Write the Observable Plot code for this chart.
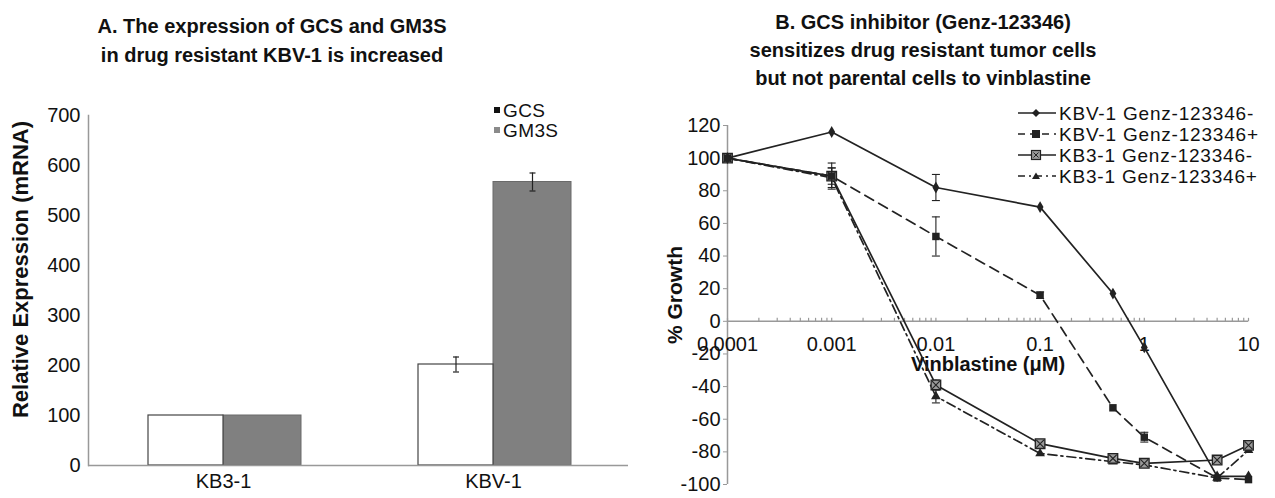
<!DOCTYPE html>
<html>
<head>
<meta charset="utf-8">
<script src="https://cdn.jsdelivr.net/npm/d3@7"></script>
<script src="https://cdn.jsdelivr.net/npm/@observablehq/plot@0.6"></script>
<style>
  html, body { margin: 0; padding: 0; background: #fff; }
  #fig { position: relative; width: 1275px; height: 498px; overflow: hidden; background: #fff;
         font-family: "Liberation Sans", Arial, sans-serif; color: #111; }
  .title { position: absolute; text-align: center; font-weight: bold; font-size: 20px; line-height: 29px; }
  #titleA { left: 0; top: 12px; width: 544px; }
  #titleB { left: 640px; top: 8px; width: 566px; line-height: 28px; }
  #chartA { position: absolute; left: 0; top: 100px; }
  #chartB { position: absolute; left: 640px; top: 95px; }
  #legendA { position: absolute; left: 494px; top: 101px; font-size: 19px; line-height: 20px; letter-spacing: 0.4px; }
  #legendA .sw { display: inline-block; width: 6px; height: 6px; margin-right: 3px; vertical-align: middle; position: relative; top: -2px; }
  #legendB { position: absolute; left: 1017px; top: 104px; font-size: 19px; line-height: 20.7px; letter-spacing: 0.8px; white-space: nowrap; }
  #legendB svg { vertical-align: middle; position: relative; top: -2px; }
</style>
</head>
<body>
<div id="fig">
  <div id="titleA" class="title">A. The expression of GCS and GM3S<br>in drug resistant KBV-1 is increased</div>
  <div id="titleB" class="title">B. GCS inhibitor (Genz-123346)<br>sensitizes drug resistant tumor cells<br>but not parental cells to vinblastine</div>
  <div id="chartA"></div>
  <div id="chartB"></div>
  <div id="legendA"></div>
  <div id="legendB"></div>
</div>
<script>
// ---------- Panel A data ----------
const categories = ["KB3-1", "KBV-1"];
const seriesA = ["GCS", "GM3S"];
const gcsValues = [100, 202];
const gcsErrors = [0, 15];
const gm3sValues = [100, 567];
const gm3sErrors = [0, 18];
const expressionTicks = [0, 100, 200, 300, 400, 500, 600, 700];
const yLabelA = "Relative Expression (mRNA)";

// ---------- Panel B data ----------
const concentrations = [0.0001, 0.001, 0.01, 0.1, 0.5, 1, 5, 10];
const seriesB = ["KBV-1 Genz-123346-", "KBV-1 Genz-123346+", "KB3-1 Genz-123346-", "KB3-1 Genz-123346+"];
const kbv1Minus    = [100, 116, 82, 70, 17, -16, -95, -95];
const kbv1MinusErr = [0, 0, 8, 0, 0, 0, 0, 0];
const kbv1Plus     = [100, 89, 52, 16, -53, -71, -96, -97];
const kbv1PlusErr  = [0, 8, 12, 2, 0, 3, 0, 0];
const kb31Minus    = [100, 89, -39, -75, -84, -87, -85, -76];
const kb31MinusErr = [0, 5, 3, 0, 0, 0, 0, 0];
const kb31Plus     = [100, 88, -46, -81, -86, -88, -96, -79];
const kb31PlusErr  = [0, 6, 4, 0, 0, 0, 0, 0];
const growthTicks = [-100, -80, -60, -40, -20, 0, 20, 40, 60, 80, 100, 120];
const xTickValues = [0.0001, 0.001, 0.01, 0.1, 1, 10];
const xTickLabels = ["0.0001", "0.001", "0.01", "0.1", "1", "10"];
const xLabelB = "Vinblastine (\u03BCM)";
const yLabelB = "% Growth";

// ---------- helpers ----------
const capSymbol = { draw(ctx, size) { const r = Math.sqrt(size / Math.PI); ctx.moveTo(-r, 0); ctx.lineTo(r, 0); } };
const upTick = { draw(ctx, size) { const r = Math.sqrt(size / Math.PI); ctx.moveTo(0, 0); ctx.lineTo(0, -r); } };
const font = "'Liberation Sans', Arial, sans-serif";

// ---------- Panel A ----------
const gcsData = categories.map((c, i) => ({category: c, series: seriesA[0], value: gcsValues[i], err: gcsErrors[i]}));
const gm3sData = categories.map((c, i) => ({category: c, series: seriesA[1], value: gm3sValues[i], err: gm3sErrors[i]}));

function errMarks(data, dx) {
  const d = data.filter(e => e.err > 0);
  return [
    Plot.ruleX(d, {x: "category", y1: e => e.value - e.err, y2: e => e.value + e.err, dx, stroke: "#222", strokeWidth: 1.2}),
    Plot.dot(d, {x: "category", y: e => e.value - e.err, dx, symbol: capSymbol, r: 3, stroke: "#222", strokeWidth: 1.2}),
    Plot.dot(d, {x: "category", y: e => e.value + e.err, dx, symbol: capSymbol, r: 3, stroke: "#222", strokeWidth: 1.2})
  ];
}

const chartA = Plot.plot({
  width: 640, height: 398,
  marginTop: 15, marginBottom: 33, marginLeft: 88, marginRight: 12,
  style: {fontFamily: font, fontSize: "20px", color: "#111", background: "transparent", overflow: "visible"},
  x: {type: "band", domain: categories, padding: 0, label: null},
  y: {domain: [0, 700], label: null},
  marks: [
    Plot.barY(gm3sData, {x: "category", y: "value", fill: "#808080", stroke: "#6a6a6a", insetLeft: 135, insetRight: 57}),
    Plot.barY(gcsData, {x: "category", y: "value", fill: "white", stroke: "#444", strokeWidth: 1.2, insetLeft: 60, insetRight: 135}),
    ...errMarks(gcsData, -37.5),
    ...errMarks(gm3sData, 39),
    Plot.ruleY([0], {stroke: "#999", strokeWidth: 1.5}),
    Plot.frame({anchor: "left", stroke: "#999", strokeWidth: 1.5}),
    Plot.axisY(expressionTicks, {tickSize: 0, tickPadding: 8, fontSize: 20, label: null}),
    Plot.axisX({tickSize: 0, tickPadding: 8, fontSize: 20, label: null}),
    Plot.text([yLabelA], {frameAnchor: "left", rotate: -90, dx: -68, dy: -21, fontSize: 22, fontWeight: "bold", textAnchor: "middle", lineAnchor: "middle"})
  ]
});
document.getElementById("chartA").appendChild(chartA);

document.getElementById("legendA").innerHTML =
  `<div><span class="sw" style="background:#111"></span>${seriesA[0]}</div>` +
  `<div><span class="sw" style="background:#8a8a8a"></span>${seriesA[1]}</div>`;

// ---------- Panel B ----------
const valuesB = [kbv1Minus, kbv1Plus, kb31Minus, kb31Plus];
const errorsB = [kbv1MinusErr, kbv1PlusErr, kb31MinusErr, kb31PlusErr];
const dataB = seriesB.map((s, k) => concentrations.map((c, i) => ({series: s, conc: c, value: valuesB[k][i], err: errorsB[k][i]})));
const dashes = ["none", "10,6", "none", "9,4,2,4"];
const minorTicks = [];
for (let e = -4; e <= 0; e++) for (let m = 1; m <= 9; m++) minorTicks.push(m * Math.pow(10, e));
minorTicks.push(10);

function lineMarks(k) {
  const d = dataB[k];
  return Plot.line(d, {x: "conc", y: "value", stroke: "#222", strokeWidth: 1.7, strokeDasharray: dashes[k]});
}
function errB(k) {
  const d = dataB[k].filter(e => e.err > 0);
  return [
    Plot.ruleX(d, {x: "conc", y1: e => e.value - e.err, y2: e => e.value + e.err, stroke: "#222", strokeWidth: 1.1}),
    Plot.dot(d, {x: "conc", y: e => e.value - e.err, symbol: capSymbol, r: 4, stroke: "#222", strokeWidth: 1.1}),
    Plot.dot(d, {x: "conc", y: e => e.value + e.err, symbol: capSymbol, r: 4, stroke: "#222", strokeWidth: 1.1})
  ];
}

const chartB = Plot.plot({
  width: 635, height: 403,
  marginTop: 30, marginBottom: 14, marginLeft: 87, marginRight: 27,
  style: {fontFamily: font, fontSize: "19px", color: "#111", background: "transparent", overflow: "visible"},
  x: {type: "log", domain: [xTickValues[0], xTickValues[xTickValues.length - 1]], label: null, axis: null},
  y: {domain: [growthTicks[0], growthTicks[growthTicks.length - 1]], label: null},
  marks: [
    Plot.ruleY([0], {stroke: "#999", strokeWidth: 1.5}),
    Plot.dot(minorTicks, {x: d => d, y: d => 0, symbol: upTick, r: 3.5, stroke: "#999", strokeWidth: 1.2}),
    Plot.ruleX([xTickValues[0]], {y1: growthTicks[0], y2: growthTicks[growthTicks.length - 1], stroke: "#999", strokeWidth: 1.5}),
    Plot.axisY(growthTicks, {tickSize: 4, tickPadding: 3, stroke: "#999", fontSize: 20, label: null,
      tickFormat: d => d < 0 ? "-" + Math.abs(d) : String(d)}),
    Plot.text(xTickValues, {x: d => d, y: d => 0, text: (d, i) => xTickLabels[i], dy: 23, fontSize: 20, fill: "#111"}),
    Plot.text([xLabelB], {frameAnchor: "middle", dy: 60, fontSize: 20, fontWeight: "bold", fill: "#111"}),
    Plot.text([yLabelB], {frameAnchor: "left", rotate: -90, dx: -52, dy: -10, fontSize: 21, fontWeight: "bold", textAnchor: "middle", lineAnchor: "middle"}),
    // series 4: KB3-1 +  (dash-dot, triangles)
    lineMarks(3), ...errB(3),
    Plot.dot(dataB[3], {x: "conc", y: "value", symbol: "triangle", r: 3.6, fill: "#222"}),
    // series 3: KB3-1 -  (solid, square with X)
    lineMarks(2), ...errB(2),
    Plot.dot(dataB[2], {x: "conc", y: "value", symbol: "square", r: 5.4, fill: "#9a9a9a", stroke: "#222", strokeWidth: 1.3}),
    Plot.dot(dataB[2], {x: "conc", y: "value", symbol: "times", r: 3.6, stroke: "#222", strokeWidth: 1.1}),
    // series 2: KBV-1 +  (dashed, filled squares)
    lineMarks(1), ...errB(1),
    Plot.dot(dataB[1], {x: "conc", y: "value", symbol: "square", r: 4.2, fill: "#222"}),
    // series 1: KBV-1 -  (solid, diamonds)
    lineMarks(0), ...errB(0),
    Plot.dot(dataB[0], {x: "conc", y: "value", symbol: "diamond", r: 3.6, fill: "#222"})
  ]
});
document.getElementById("chartB").appendChild(chartB);

// Legend B
const legendMarkers = [
  `<path d="M19,6 L23,10 L19,14 L15,10 Z" fill="#222"/>`,
  `<rect x="15" y="6" width="8" height="8" fill="#222"/>`,
  `<rect x="14.5" y="5.5" width="9" height="9" fill="#9a9a9a" stroke="#222" stroke-width="1.2"/><path d="M16.5,7.5 L21.5,12.5 M21.5,7.5 L16.5,12.5" stroke="#222" stroke-width="1"/>`,
  `<path d="M19,6.5 L23,13 L15,13 Z" fill="#222"/>`
];
document.getElementById("legendB").innerHTML = seriesB.map((s, k) =>
  `<div><svg width="40" height="20" style="margin-right:2px"><line x1="1" x2="39" y1="10" y2="10" stroke="#222" stroke-width="1.7"${dashes[k] === "none" ? "" : ` stroke-dasharray="${k === 1 ? "7,5" : "7,4,2,4"}"`}/>${legendMarkers[k]}</svg>${s}</div>`
).join("");
</script>
</body>
</html>
